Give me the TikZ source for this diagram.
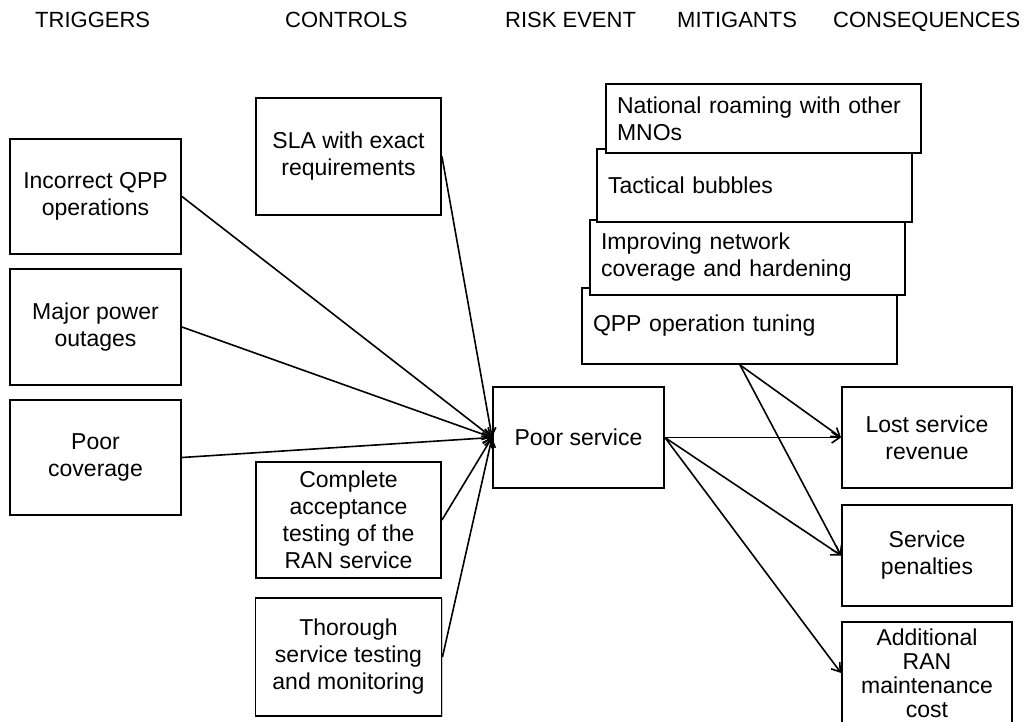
\documentclass[tikz,border=0pt]{standalone}
\usepackage{fontspec}
\setmainfont{Liberation Sans}
\usetikzlibrary{arrows.meta,shadows}
\begin{document}
\begin{tikzpicture}[x=1pt,y=-1pt,
  box/.style={draw, line width=1.9pt, fill=white, inner sep=0pt, align=center,
    font=\fontsize{23}{27}\selectfont,
    drop shadow={shadow xshift=1.2pt, shadow yshift=-1.2pt, opacity=0.35, fill=black!60}},
  mitbox/.style={box, align=left, inner xsep=11pt, text width=293pt, minimum width=315pt},
  head/.style={anchor=base west, inner sep=0pt, font=\fontsize{22}{26}\selectfont},
  link/.style={line width=1.6pt, -{Straight Barb[length=8pt,width=11pt]}}]
\useasboundingbox (0,0) rectangle (1034,722);
\clip (0,0) rectangle (1034,722);

% column headings
\node[head] (hTrig) at (35,28) {TRIGGERS};
\node[head] (hCtrl) at (285,28) {CONTROLS};
\node[head] (hRisk) at (505,28) {RISK EVENT};
\node[head] (hMit)  at (677,28) {MITIGANTS};
\node[head] (hCons) at (833,28) {CONSEQUENCES};

% triggers
\node[box, minimum width=171pt, minimum height=115pt] (trig1) at (95.5,196.5) {Incorrect QPP\\operations};
\node[box, minimum width=171pt, minimum height=116pt] (trig2) at (95.5,327) {Major power\\outages};
\node[box, minimum width=171pt, minimum height=115pt] (trig3) at (95.5,457.5) {Poor\\coverage};

% controls
\node[box, minimum width=185pt, minimum height=117pt] (ctl1) at (348.5,156.5) {SLA with exact\\requirements};
\node[box, minimum width=185pt, minimum height=116pt] (ctl2) at (348.5,520) {Complete\\acceptance\\testing of the\\RAN service};
\node[box, minimum width=186pt, minimum height=118pt] (ctl3) at (348.5,657) {Thorough\\service testing\\and monitoring};

% risk event
\node[box, minimum width=171pt, minimum height=101pt] (risk) at (578.5,437.5) {Poor service};

% mitigants, stacked back to front
\node[mitbox, minimum height=76pt] (mit4) at (739.5,326) {QPP operation tuning};
\node[mitbox, minimum height=75pt] (mit3) at (747.5,257.5) {Improving network\\coverage and hardening};
\node[mitbox, minimum height=73pt] (mit2) at (754.5,185.5) {Tactical bubbles};
\node[mitbox, minimum height=69pt] (mit1) at (763.5,118.5) {National roaming with other\\MNOs};

% consequences
\node[box, minimum width=170pt, minimum height=101pt] (cons1) at (927,437.5) {Lost service\\revenue};
\node[box, minimum width=170pt, minimum height=101pt] (cons2) at (927,555.5) {Service\\penalties};
\node[box, minimum width=170pt, minimum height=102pt, font=\fontsize{23}{24}\selectfont] (cons3) at (927,673) {Additional\\RAN\\maintenance\\cost};

% causes into the risk event
\foreach \s in {trig1,trig2,trig3,ctl1,ctl2,ctl3}
  \draw[link] (\s.east) -- (risk.west);

% risk event into consequences
\foreach \t in {cons1,cons2,cons3}
  \draw[link] (risk.east) -- (\t.west);

% mitigation links
\coordinate (mitfoot) at ([xshift=0.5pt]mit4.south);
\draw[link] (mitfoot) -- (cons1.west);
\draw[link] (mitfoot) -- (cons2.west);
\end{tikzpicture}
\end{document}
